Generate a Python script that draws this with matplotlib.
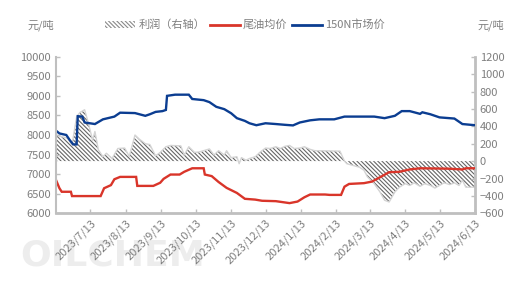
import numpy as np
import pandas as pd
from matplotlib import pyplot as plt
from matplotlib.patches import Patch
from matplotlib.lines import Line2D

plt.rcParams['font.family'] = ['Noto Sans CJK SC', 'DejaVu Sans']
plt.rcParams['hatch.linewidth'] = 0.8

# 150N市场价 (left axis)
n150_dates = ["2023-06-13", "2023-06-16", "2023-06-22", "2023-06-25", "2023-06-28", "2023-07-01",
              "2023-07-02", "2023-07-06", "2023-07-08", "2023-07-17", "2023-07-24", "2023-08-03",
              "2023-08-08", "2023-08-21", "2023-08-30", "2023-09-03", "2023-09-08", "2023-09-14",
              "2023-09-17", "2023-09-18", "2023-09-25", "2023-10-07", "2023-10-10", "2023-10-20",
              "2023-10-25", "2023-10-31", "2023-11-07", "2023-11-13", "2023-11-18", "2023-11-25",
              "2023-11-29", "2023-12-05", "2023-12-13", "2023-12-22", "2023-12-30", "2024-01-06",
              "2024-01-12", "2024-01-21", "2024-01-29", "2024-02-11", "2024-02-20", "2024-03-17",
              "2024-03-26", "2024-04-04", "2024-04-10", "2024-04-17", "2024-04-26", "2024-04-28",
              "2024-05-05", "2024-05-13", "2024-05-26", "2024-06-02", "2024-06-13"]
n150_vals = [8110, 8040, 8000, 7870, 7760, 7760,
             8480, 8470, 8320, 8280, 8400, 8470,
             8570, 8560, 8490, 8530, 8590, 8610,
             8640, 9000, 9030, 9030, 8920, 8890,
             8840, 8720, 8660, 8555, 8430, 8360,
             8300, 8250, 8300, 8280, 8260, 8245,
             8320, 8375, 8400, 8400, 8470, 8470,
             8430, 8490, 8610, 8610, 8540, 8580,
             8530, 8450, 8420, 8280, 8250]

# 尾油均价 (left axis)
tail_dates = ["2023-06-13", "2023-06-16", "2023-06-18", "2023-06-26", "2023-06-27", "2023-07-22",
              "2023-07-25", "2023-07-31", "2023-08-03", "2023-08-08", "2023-08-22", "2023-08-23",
              "2023-09-06", "2023-09-12", "2023-09-15", "2023-09-21", "2023-09-29", "2023-10-03",
              "2023-10-10", "2023-10-20", "2023-10-21", "2023-10-27", "2023-11-02", "2023-11-09",
              "2023-11-18", "2023-11-25", "2023-12-04", "2023-12-10", "2023-12-22", "2024-01-03",
              "2024-01-10", "2024-01-16", "2024-01-21", "2024-02-03", "2024-02-07", "2024-02-17",
              "2024-02-20", "2024-02-24", "2024-03-08", "2024-03-15", "2024-03-22", "2024-03-30",
              "2024-04-08", "2024-04-17", "2024-04-26", "2024-05-21", "2024-06-02", "2024-06-05",
              "2024-06-13"]
tail_vals = [6850, 6640, 6550, 6550, 6440, 6440,
             6640, 6720, 6870, 6930, 6930, 6700,
             6700, 6780, 6880, 6990, 6990, 7060,
             7150, 7150, 6990, 6950, 6800, 6650,
             6520, 6370, 6350, 6320, 6310, 6260,
             6300, 6410, 6480, 6480, 6470, 6470,
             6680, 6750, 6770, 6810, 6920, 7050,
             7060, 7120, 7150, 7140, 7120, 7150,
             7150]

# 利润 (right axis)
profit_dates = ["2023-06-13", "2023-06-18", "2023-06-23", "2023-06-27", "2023-07-01", "2023-07-04",
                "2023-07-08", "2023-07-11", "2023-07-15", "2023-07-17", "2023-07-20", "2023-07-24",
                "2023-07-27", "2023-08-01", "2023-08-06", "2023-08-12", "2023-08-16", "2023-08-21",
                "2023-08-25", "2023-08-30", "2023-09-03", "2023-09-08", "2023-09-12", "2023-09-17",
                "2023-09-21", "2023-09-30", "2023-10-03", "2023-10-07", "2023-10-12", "2023-10-16",
                "2023-10-20", "2023-10-25", "2023-10-29", "2023-11-02", "2023-11-07", "2023-11-09",
                "2023-11-13", "2023-11-18", "2023-11-20", "2023-11-22", "2023-11-26", "2023-11-29",
                "2023-12-04", "2023-12-08", "2023-12-13", "2023-12-17", "2023-12-22", "2023-12-26",
                "2023-12-30", "2024-01-03", "2024-01-07", "2024-01-12", "2024-01-16", "2024-01-21",
                "2024-01-25", "2024-02-16", "2024-02-20", "2024-02-22", "2024-03-04", "2024-03-08",
                "2024-03-11", "2024-03-17", "2024-03-22", "2024-03-26", "2024-03-30", "2024-04-04",
                "2024-04-08", "2024-04-13", "2024-04-17", "2024-04-21", "2024-04-26", "2024-04-30",
                "2024-05-05", "2024-05-09", "2024-05-13", "2024-05-17", "2024-05-22", "2024-05-26",
                "2024-05-30", "2024-06-02", "2024-06-05", "2024-06-13"]
profit_vals = [300, 280, 265, 185, 510, 560,
               590, 450, 240, 340, 130, 50,
               90, 30, 145, 150, 55, 300,
               250, 200, 190, 60, 100, 165,
               180, 175, 70, 165, 100, 105,
               120, 140, 70, 120, 70, 120,
               40, 50, -30, 40, 10, 30,
               50, 100, 150, 145, 165, 145,
               170, 180, 145, 150, 165, 135,
               120, 115, 0, -30, -70, -105,
               -180, -260, -355, -450, -470, -355,
               -300, -260, -280, -250, -290, -260,
               -280, -310, -280, -250, -270, -250,
               -280, -220, -300, -300]

tick_dates = pd.date_range("2023-06-13", "2024-06-13", freq="MS") + pd.Timedelta(days=12)
tick_labels = [f"{d.year}/{d.month}/{d.day}" for d in tick_dates]

n150 = pd.Series(n150_vals, index=pd.to_datetime(n150_dates))
tail = pd.Series(tail_vals, index=pd.to_datetime(tail_dates))
profit = pd.Series(profit_vals, index=pd.to_datetime(profit_dates))

grey = "#7f7f7f"
spine = "#bfbfbf"
blue = "#0b3d91"
red = "#d9352a"
hatch = "\\" * 8

fig = plt.figure(figsize=(5.22, 2.95), dpi=100)
ax = fig.add_axes([56 / 522, 1 - 213.3 / 295, (475 - 56) / 522, (213.3 - 56.7) / 295])
ax2 = ax.twinx()

# profit area on right axis
ax2.fill_between(profit.index, 0, profit.values, facecolor="none", edgecolor="#666666",
                 hatch=hatch, linewidth=0)
ax2.plot(profit.index, profit.values, color="#d4d4d4", lw=1.0)
ax2.set_ylim(-600, 1200)
ax2.set_yticks(np.arange(-600, 1201, 200))

ax.plot(tail.index, tail.values, color=red, lw=1.7, solid_joinstyle="miter")
ax.plot(n150.index, n150.values, color=blue, lw=1.7, solid_joinstyle="miter")
ax.set_ylim(6000, 10000)
ax.set_yticks(np.arange(6000, 10001, 500))
ax.set_xlim(pd.Timestamp("2023-06-13"), pd.Timestamp("2024-06-13"))
ax.set_xticks(tick_dates)
ax.set_xticklabels(tick_labels, rotation=45, ha="right", va="top", rotation_mode="anchor")

ax.set_zorder(ax2.get_zorder() + 1)
ax.patch.set_visible(False)

for a in (ax, ax2):
    for s in a.spines.values():
        s.set_visible(False)
    a.tick_params(colors=grey, labelsize=8, direction="in", length=3, width=1)
    a.tick_params(axis="x", color=spine)
    a.tick_params(axis="y", color=spine)
ax.spines["left"].set_visible(True)
ax.spines["left"].set_color(spine)
ax.spines["left"].set_linewidth(1.5)
ax.spines["bottom"].set_visible(True)
ax.spines["bottom"].set_color(spine)
ax.spines["bottom"].set_linewidth(2)
ax2.spines["right"].set_visible(True)
ax2.spines["right"].set_color(spine)
ax2.spines["right"].set_linewidth(2)
ax.tick_params(axis="x", pad=3)

fig.text(28 / 522, 1 - 25 / 295, "元/吨", color=grey, fontsize=8, va="center")
fig.text(477 / 522, 1 - 25 / 295, "元/吨", color=grey, fontsize=8, va="center")

handles = [Patch(facecolor="white", edgecolor="#8a8a8a", hatch=hatch, linewidth=0),
           Line2D([], [], color=red, lw=2),
           Line2D([], [], color=blue, lw=2)]
fig.legend(handles, ["利润（右轴）", "尾油均价", "150N市场价"], loc="center",
           bbox_to_anchor=(245 / 522, 1 - 25 / 295), ncol=3, frameon=False, fontsize=8,
           labelcolor=grey, handlelength=2.7, handletextpad=0.3, columnspacing=0.4,
           handleheight=0.6)

fig.text(20 / 522, 1 - 256 / 295, "OILCHEM", fontsize=26, fontweight="bold",
         color="#ededed", va="center", ha="left", family="DejaVu Sans", zorder=-1)

fig.savefig("out.png", dpi=100)
